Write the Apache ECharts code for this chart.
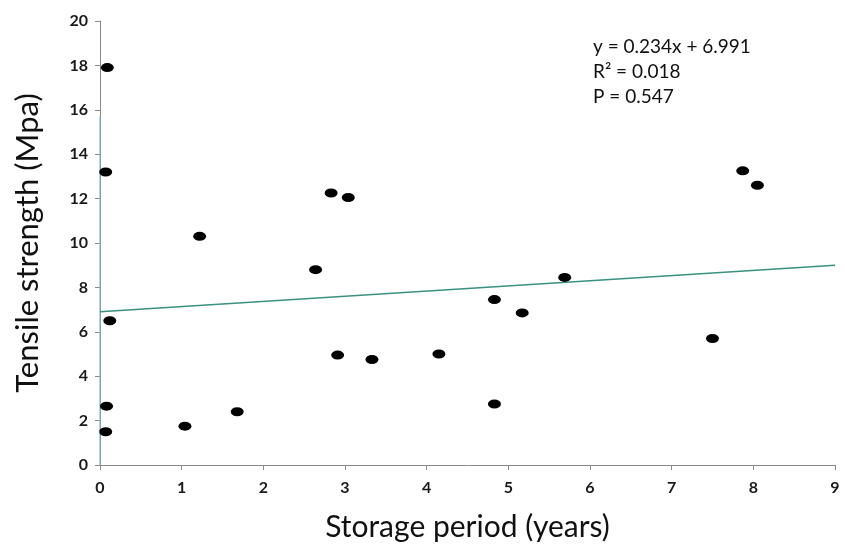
<!DOCTYPE html>
<html>
<head>
<meta charset="utf-8">
<script src="https://cdn.jsdelivr.net/npm/echarts@6/dist/echarts.min.js"></script>
<style>
  html, body { margin: 0; padding: 0; background: #fff; }
  #chart { width: 845px; height: 554px; }
</style>
</head>
<body>
<div id="chart"></div>
<script>
// Storage period (years) vs tensile strength (Mpa)
const storageYears = [0.09, 0.07, 0.12, 0.08, 0.07, 1.04, 1.22, 1.68, 2.64, 2.83, 2.91, 3.04, 3.33, 4.15, 4.83, 4.83, 5.17, 5.69, 7.50, 7.87, 8.05];
const tensileMpa   = [17.9, 13.2, 6.5, 2.65, 1.5, 1.75, 10.3, 2.4, 8.8, 12.25, 4.95, 12.05, 4.75, 5.0, 7.45, 2.75, 6.85, 8.45, 5.7, 13.25, 12.6];

// fitted line end points
const trendX = [0, 9];
const trendY = [6.9, 9.0];

// light blue overlay on the lower part of the y axis
const axisOverlayY = [0, 15.7];

const annotation = ['y = 0.234x + 6.991', 'R² = 0.018', 'P = 0.547'];

const FONT = 'Lato, "Open Sans", sans-serif';

const chart = echarts.init(document.getElementById('chart'), null, { renderer: 'canvas' });

const points = storageYears.map((x, i) => [x, tensileMpa[i]]);
const trend = trendX.map((x, i) => [x, trendY[i]]);
const overlay = axisOverlayY.map(y => [0, y]);

chart.setOption({
  backgroundColor: '#fff',
  animation: false,
  grid: { left: 100, right: 10, top: 21, bottom: 89 },
  xAxis: {
    type: 'value',
    min: 0, max: 9, interval: 1,
    name: 'Storage period (years)',
    nameLocation: 'middle',
    nameGap: 47,
    nameTextStyle: { fontFamily: FONT, fontSize: 30, color: '#111' },
    axisLine: { show: true, lineStyle: { color: '#8a8a8a', width: 1 } },
    axisTick: { show: true, length: 5, lineStyle: { color: '#8a8a8a' } },
    axisLabel: { fontFamily: FONT, fontSize: 16, fontWeight: 'bold', color: '#1a1a1a', margin: 15 },
    splitLine: { show: false }
  },
  yAxis: {
    type: 'value',
    min: 0, max: 20, interval: 2,
    name: 'Tensile strength (Mpa)',
    nameLocation: 'middle',
    nameGap: 57,
    nameTextStyle: { fontFamily: FONT, fontSize: 31, color: '#111' },
    axisLine: { show: true, lineStyle: { color: '#8a8a8a', width: 1 } },
    axisTick: { show: true, length: 5, lineStyle: { color: '#8a8a8a' } },
    axisLabel: { fontFamily: FONT, fontSize: 16, fontWeight: 'bold', color: '#1a1a1a', margin: 12 },
    splitLine: { show: false }
  },
  series: [
    {
      name: 'axis overlay',
      type: 'line',
      data: overlay,
      symbol: 'none',
      silent: true,
      lineStyle: { color: '#7fb3d1', width: 1.2 },
      z: 1
    },
    {
      name: 'Trend',
      type: 'line',
      data: trend,
      symbol: 'none',
      silent: true,
      lineStyle: { color: '#3a917f', width: 1.5 },
      z: 2
    },
    {
      name: 'Samples',
      type: 'scatter',
      data: points,
      symbol: 'circle',
      symbolSize: [13, 9],
      itemStyle: { color: '#000', opacity: 1 },
      z: 3
    }
  ],
  graphic: [
    {
      type: 'text',
      left: 593,
      top: 34,
      style: {
        text: annotation.join('\n'),
        fontFamily: FONT,
        fontSize: 19,
        lineHeight: 25,
        fill: '#111'
      }
    }
  ]
});
</script>
</body>
</html>
